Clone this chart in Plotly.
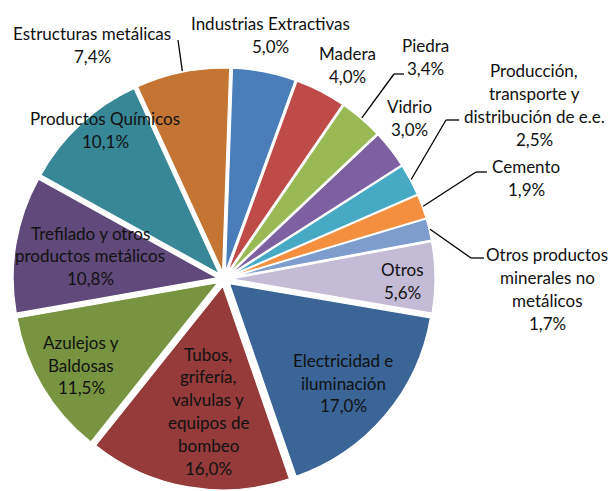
import math
import plotly.graph_objects as go

W, H = 608, 491

labels = ["Industrias Extractivas", "Madera", "Piedra", "Vidrio",
          "Producción, transporte y distribución de e.e.", "Cemento",
          "Otros productos minerales no metálicos", "Otros",
          "Electricidad e iluminación",
          "Tubos, grifería, valvulas y equipos de bombeo",
          "Azulejos y Baldosas", "Trefilado y otros productos metálicos",
          "Productos Químicos", "Estructuras metálicas"]
label_lines = [["Industrias Extractivas"], ["Madera"], ["Piedra"], ["Vidrio"],
               ["Producción,", "transporte y", "distribución de e.e."], ["Cemento"],
               ["Otros productos", "minerales no", "metálicos"], ["Otros"],
               ["Electricidad e", "iluminación"],
               ["Tubos,", "grifería,", "valvulas y", "equipos de", "bombeo"],
               ["Azulejos y", "Baldosas"], ["Trefilado y otros", "productos metálicos"],
               ["Productos Químicos"], ["Estructuras metálicas"]]
values = [5.0, 4.0, 3.4, 3.0, 2.5, 1.9, 1.7, 5.6, 17.0, 16.0, 11.5, 10.8, 10.1, 7.4]
colors = ["#4A7EBB", "#BE4B48", "#98B954", "#7D60A0", "#46AAC5", "#F38F3F",
          "#7E9DCD", "#C4BBD6", "#3A6596", "#953B3A", "#789440", "#604A7B",
          "#378797", "#C47534"]

# layout (pixels)
cx, cy, half = 224, 279, 211
rotation = 2
label_pos = [(270, 35), (348, 65), (425, 57), (409, 118), (534, 105), (526, 178),
             (547, 289), (402, 281), (343, 383), (208, 411), (81, 365), (90, 256),
             (105, 130), (92, 45)]
# leader lines: slice index -> points after the start on the slice edge
leaders = {13: [(178, 40)],
           2: [(394, 74), (404, 74)],
           4: [(446, 120), (459, 120)],
           5: [(476, 172), (487, 172)],
           6: [(471, 258), (484, 258)]}
line_h = 22.8


def px(x):
    return x / W


def py(y):
    return 1 - y / H


fig = go.Figure(go.Pie(
    labels=labels, values=values, sort=False, direction="clockwise",
    rotation=rotation, pull=0.035, textinfo="none", hoverinfo="label+percent",
    marker=dict(colors=colors, line=dict(color="white", width=1.2)),
    domain=dict(x=[px(cx - half), px(cx + half)], y=[py(cy + half), py(cy - half)]),
    showlegend=False,
))

total = sum(values)
cum = 0
annotations = []
shapes = []
for i, v in enumerate(values):
    mid = (cum + v / 2) / total * 360 + rotation
    cum += v
    lines = label_lines[i] + [f"{v:.1f}".replace(".", ",") + "%"]
    x0, y0 = label_pos[i]
    top = y0 - line_h * (len(lines) - 1) / 2
    for k, t in enumerate(lines):
        annotations.append(dict(x=px(x0), y=py(top + k * line_h), xref="paper", yref="paper",
                                text=t, showarrow=False, xanchor="center", yanchor="middle",
                                font=dict(family="Lato", size=17, color="#111111")))
    if i in leaders:
        a = math.radians(mid)
        pts = [(cx + (half + 1) * math.sin(a), cy - (half + 1) * math.cos(a))] + leaders[i]
        for (xa, ya), (xb, yb) in zip(pts[:-1], pts[1:]):
            shapes.append(dict(type="line", xref="paper", yref="paper",
                               x0=px(xa), y0=py(ya), x1=px(xb), y1=py(yb),
                               line=dict(color="black", width=1.3)))

# soft white centre
shapes.append(dict(type="circle", xref="paper", yref="paper",
                   x0=px(cx - 9), x1=px(cx + 9), y0=py(cy + 9), y1=py(cy - 9),
                   fillcolor="rgba(255,255,255,0.85)", line=dict(width=0)))

fig.update_layout(
    width=W, height=H, margin=dict(l=0, r=0, t=0, b=0),
    paper_bgcolor="white", plot_bgcolor="white",
    annotations=annotations, shapes=shapes,
)
fig.write_html("out.html", config={"displayModeBar": False},
               post_script="document.body.style.margin='0px';")
